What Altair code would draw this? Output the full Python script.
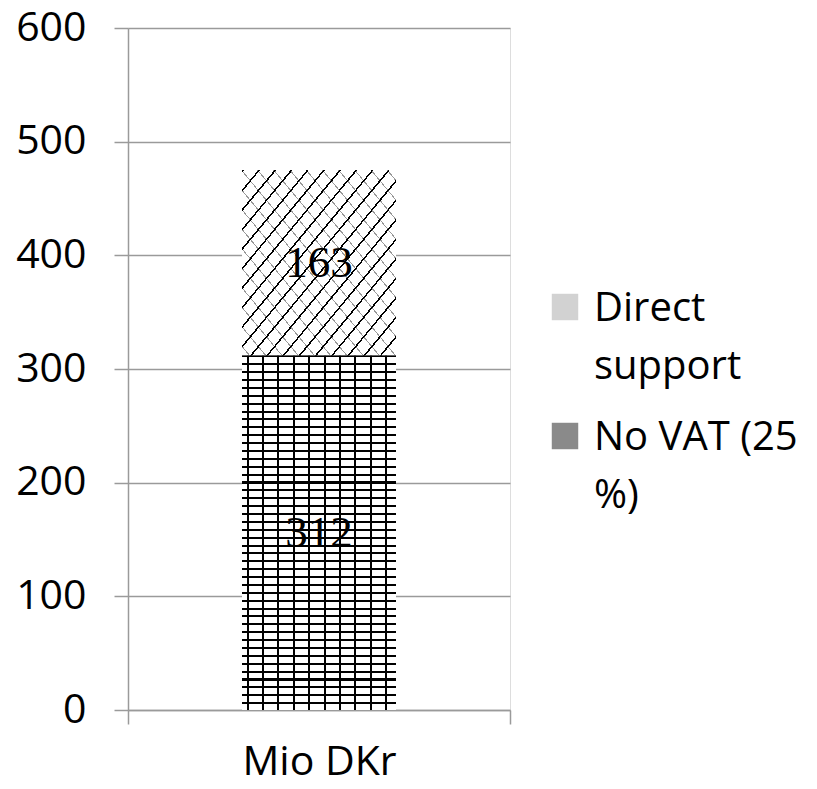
import altair as alt
import pandas as pd

categories = ["Mio DKr", "Mio DKr"]
series = ["No VAT (25 %)", "Direct support"]
values = [312, 163]
legend_order = ["Direct support", "No VAT (25 %)"]
y_ticks = [0, 100, 200, 300, 400, 500, 600]

df = pd.DataFrame({"cat": categories, "series": series, "value": values,
                   "order": [0, 1]})


def stripes(n, frac, on, off, x1, y1, x2, y2, phase=0.0):
    stops = []
    for i in range(n):
        a = (i + phase) / n
        b = a + frac / n
        if a < 0 or b > 1:
            continue
        stops += [alt.GradientStop(offset=a, color=off),
                  alt.GradientStop(offset=a, color=on),
                  alt.GradientStop(offset=b, color=on),
                  alt.GradientStop(offset=b, color=off)]
    return alt.LinearGradient(gradient="linear", stops=stops,
                              x1=x1, y1=y1, x2=x2, y2=y2)


TRANSP = "rgba(255,255,255,0)"
brick_h = stripes(45, 0.26, "black", "white", 0, 0, 0, 1, 0.0)
brick_v = stripes(10, 0.13, "black", TRANSP, 0, 0, 1, 0, 0.3)
diag_a = stripes(19, 0.12, "black", "white", 0, 0, 1, 1, 0.0)
diag_b = stripes(19, 0.08, "rgba(0,0,0,0.4)", TRANSP, 1, 0, 0, 1, 0.5)

FONT = "Open Sans"
BAR_W = 154
DY = 14
LABEL_EXPR = ("datum.label == 'Direct support' ? ['Direct','support'] "
              ": ['No VAT (25','%)']")

base = alt.Chart(df).transform_stack(
    stack="value", groupby=["cat"], as_=["y0", "y1"],
    sort=[alt.SortField("order", order="ascending")]
).transform_calculate(mid="(datum.y0 + datum.y1) / 2")

x_enc = alt.X("cat:N", title=None,
              scale=alt.Scale(paddingInner=0, paddingOuter=0),
              axis=alt.Axis(labelAngle=0, labelFont=FONT, labelFontSize=41,
                            labelColor="black", domainColor="#9a9a9a",
                            domainWidth=1.5, tickColor="#9a9a9a",
                            tickWidth=1.5, tickSize=14, tickBand="extent",
                            labelPadding=18 - DY))
y_enc = alt.Y("y0:Q", title=None,
              scale=alt.Scale(domain=[0, 600], nice=False),
              axis=alt.Axis(values=y_ticks, labelFont=FONT,
                            labelFontSize=41, labelColor="black",
                            labelOffset=-DY,
                            domainColor="#9a9a9a", domainWidth=1.5,
                            tickColor="#9a9a9a", tickWidth=1.5,
                            tickSize=14, labelPadding=28, grid=True,
                            gridColor="#9a9a9a", gridWidth=1.5))

legend_bar = base.mark_bar(width=BAR_W).encode(
    x=x_enc, y=y_enc, y2="y1:Q",
    color=alt.Color("series:N",
                    scale=alt.Scale(domain=legend_order,
                                    range=["#d2d2d2", "#8a8a8a"]),
                    legend=alt.Legend(
                        title=None, orient="none", legendX=417, legendY=259,
                        rowPadding=29, labelBaseline="alphabetic",
                        labelFont=FONT, labelFontSize=40,
                        labelColor="black", symbolType="square",
                        symbolSize=700, symbolStrokeWidth=0,
                        labelOffset=9, labelExpr=LABEL_EXPR,
                        labelLimit=300)),
)


def pat(series_name, fill):
    return base.mark_bar(width=BAR_W, fill=fill).encode(
        x="cat:N", y="y0:Q", y2="y1:Q"
    ).transform_filter(alt.datum.series == series_name)


layers = [
    legend_bar,
    pat("No VAT (25 %)", brick_h),
    pat("No VAT (25 %)", brick_v),
    pat("Direct support", diag_a),
    pat("Direct support", diag_b),
    base.mark_text(font="Liberation Serif", fontSize=45,
                   color="black").encode(
        x="cat:N", y="mid:Q", text="value:Q"),
]

chart = alt.layer(*layers).properties(
    width=382, height=682,
    autosize=alt.AutoSizeParams(type="none"),
    padding={"left": 120, "top": 20, "right": 290, "bottom": 71},
).configure_view(stroke=None).configure(
    style={"guide-label": {"lineHeight": 58, "dy": DY}}
)

chart.save("out.html", embed_options={"renderer": "svg", "actions": False})
